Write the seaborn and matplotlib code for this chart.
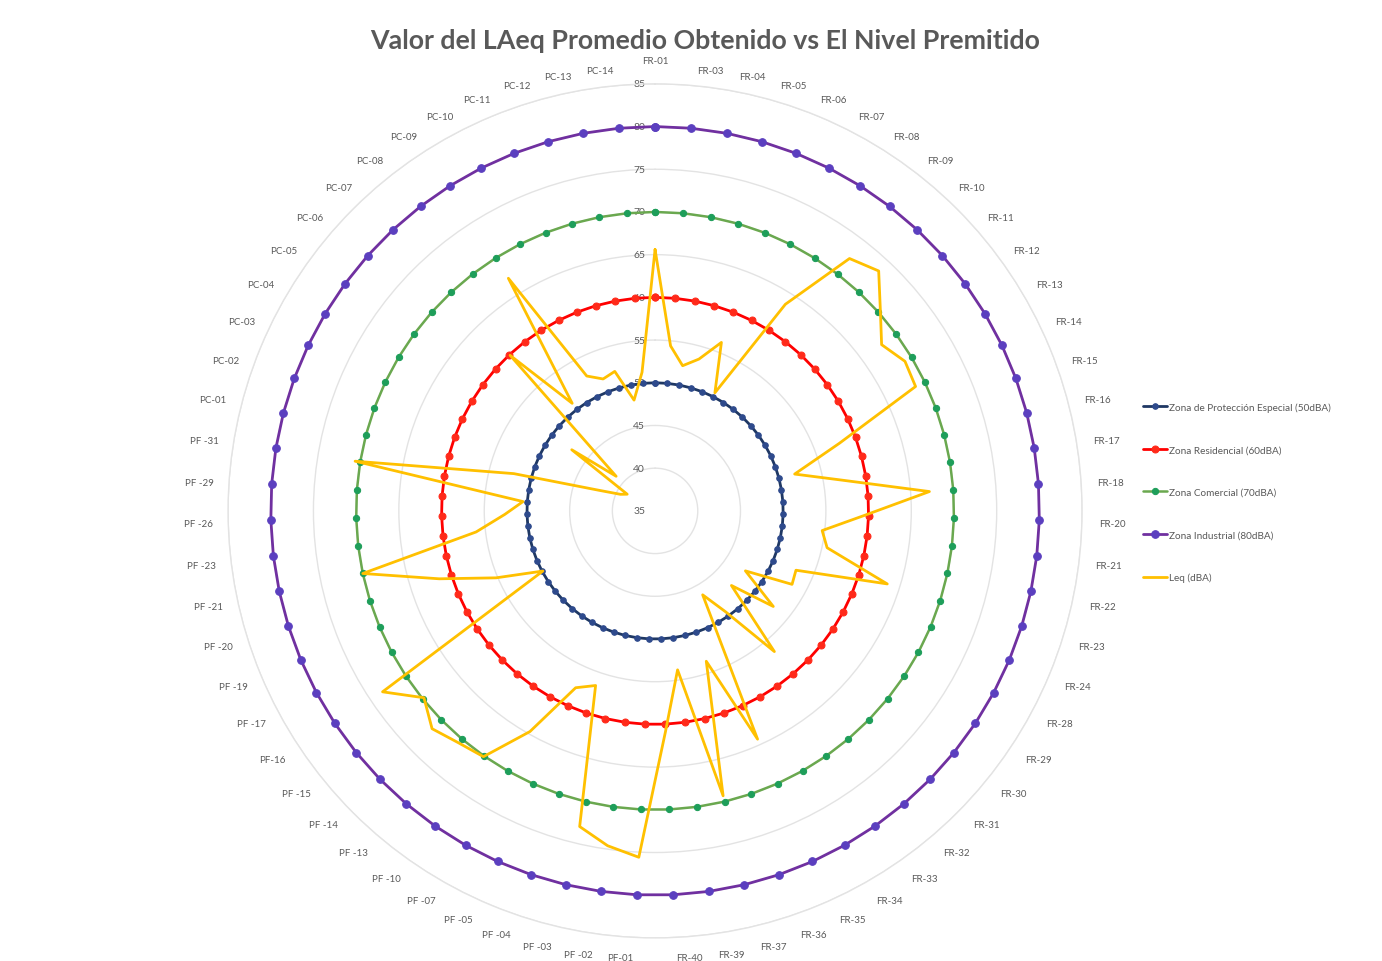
import numpy as np
import pandas as pd
import matplotlib.pyplot as plt
import seaborn as sns
from matplotlib.transforms import offset_copy

sns.set_style("white")
plt.rcParams["font.family"] = ["Lato", "DejaVu Sans"]

categories = [
    "FR-01", "FR-03", "FR-04", "FR-05", "FR-06", "FR-07", "FR-08", "FR-09", "FR-10", "FR-11",
    "FR-12", "FR-13", "FR-14", "FR-15", "FR-16", "FR-17", "FR-18", "FR-20", "FR-21", "FR-22",
    "FR-23", "FR-24", "FR-28", "FR-29", "FR-30", "FR-31", "FR-32", "FR-33", "FR-34", "FR-35",
    "FR-36", "FR-37", "FR-39", "FR-40",
    "PF-01", "PF -02", "PF -03", "PF -04", "PF -05", "PF -07", "PF -10", "PF -13", "PF -14",
    "PF -15", "PF-16", "PF -17", "PF -19", "PF -20", "PF -21", "PF -23", "PF -26", "PF -29", "PF -31",
    "PC-01", "PC-02", "PC-03", "PC-04", "PC-05", "PC-06", "PC-07", "PC-08", "PC-09", "PC-10",
    "PC-11", "PC-12", "PC-13", "PC-14",
]

leq = [
    65.6, 54.4, 52.3, 53.5, 56.2, 50.5, 63.6, 72.3, 73.4, 70.3,
    67.9, 69.1, 68.8, 58.0, 51.9, 57.1, 67.2, 59.4, 54.7, 55.6,
    63.5, 52.9, 53.2, 47.7, 52.8, 47.5, 56.6, 49.4, 46.3, 64.3,
    53.6, 69.3, 53.8, 60.9,
    75.6, 74.6, 73.0, 56.6, 57.7, 64.7, 70.1, 70.6, 71.5,
    69.8, 73.3, 49.9, 55.2, 61.5, 70.0, 56.1, 52.6, 50.5, 70.6,
    52.1, 42.0, 39.5, 38.8, 47.1, 41.1, 59.9, 50.9, 67.2, 52.7,
    51.6, 52.0, 48.2, 51.3,
]

zone_names = [
    "Zona de Protección Especial (50dBA)",
    "Zona Residencial (60dBA)",
    "Zona Comercial (70dBA)",
    "Zona Industrial (80dBA)",
]
zone_limits = [50, 60, 70, 80]
zone_line_colors = ["#1F3864", "#FF0000", "#6AA84F", "#7030A0"]
zone_marker_colors = ["#2E4A8C", "#FF2A1A", "#1E9E5A", "#5B3FBF"]
zone_lw = [2.0, 2.0, 1.8, 2.0]
zone_ms = [4.0, 5.0, 4.5, 5.5]

r_ticks = list(range(35, 90, 5))

n = len(categories)
theta = np.linspace(0, 2 * np.pi, n, endpoint=False)
theta_closed = np.append(theta, 2 * np.pi)

fig = plt.figure(figsize=(13.82, 9.62), dpi=100)
ax = fig.add_axes([0.165, 0.0239, 0.618, 0.888], projection="polar")
ax.set_theta_zero_location("N")
ax.set_theta_direction(-1)

for name, lim, lc, mc, lw, ms in zip(zone_names, zone_limits, zone_line_colors,
                                     zone_marker_colors, zone_lw, zone_ms):
    df = pd.DataFrame({"theta": theta_closed, "valor": [lim] * (n + 1)})
    sns.lineplot(data=df, x="theta", y="valor", ax=ax, color=lc, lw=lw, marker="o",
                 markersize=ms, markerfacecolor=mc, markeredgecolor=mc, label=name,
                 sort=False, zorder=3)

df_leq = pd.DataFrame({"theta": theta_closed, "valor": leq + [leq[0]]})
sns.lineplot(data=df_leq, x="theta", y="valor", ax=ax, color="#FFC000", lw=2.0,
             label="Leq (dBA)", sort=False, zorder=4)

ax.set_ylim(35, 85)
ax.set_yticks(r_ticks)
ax.set_yticklabels([])
ax.set_xticks(theta)
ax.set_xticklabels([])
ax.xaxis.grid(False)
ax.yaxis.grid(True, color="#E3E3E3", lw=1)
ax.spines["polar"].set_color("#E3E3E3")
ax.spines["polar"].set_linewidth(1)
ax.set_xlabel("")
ax.set_ylabel("")

# category labels: pushed out from the outer ring, Excel style
for i, (t, cat) in enumerate(zip(theta, categories)):
    s, c = np.sin(t), np.cos(t)
    dx = 30 * s + 13 * np.sign(round(s, 6)) * abs(c) ** 3
    dy = 18 * c - 2.5 + (8 if i == 0 else 0)
    ax.annotate(cat, xy=(t, 85), xytext=(dx, dy), textcoords="offset pixels",
                ha="center", va="center", fontsize=7, color="#595959",
                annotation_clip=False)

trans = offset_copy(ax.transData, fig=fig, x=-10, y=0, units="dots")
for v in r_ticks:
    ax.text(0, v, str(v), transform=trans, ha="right", va="center", fontsize=7.5,
            color="#595959", zorder=2)

handles, labels = ax.get_legend_handles_labels()
ax.get_legend().remove()
fig.legend(handles, labels, loc="upper left", bbox_to_anchor=(0.827, 0.581),
           frameon=False, fontsize=7.2, labelcolor="#595959", handlelength=2.4,
           handletextpad=0.2, labelspacing=3.35, borderpad=0, borderaxespad=0)

fig.text(0.5105, 0.957, "Valor del LAeq Promedio Obtenido vs El Nivel Premitido",
         ha="center", va="center", fontsize=19.3, fontweight="bold", color="#595959")

fig.savefig("out.png", dpi=100)
